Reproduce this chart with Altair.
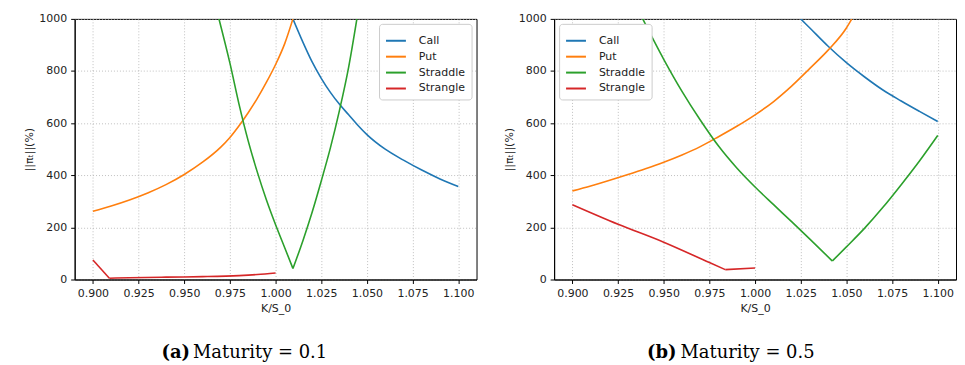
import altair as alt
import pandas as pd

series_names = ["Call", "Put", "Straddle", "Strangle"]
series_colors = ["#1f77b4", "#ff7f0e", "#2ca02c", "#d62728"]
x_ticks = [0.900, 0.925, 0.950, 0.975, 1.000, 1.025, 1.050, 1.075, 1.100]
y_ticks = [0, 200, 400, 600, 800, 1000]

# ---- (a) Maturity = 0.1 ----
a_call_k = [1.0095, 1.015, 1.020, 1.025, 1.030, 1.035, 1.040, 1.045, 1.050, 1.060, 1.070, 1.080, 1.090, 1.100]
a_call_v = [1000, 910, 835, 772, 718, 672, 632, 592, 556, 500, 458, 420, 386, 357]
a_put_k = [0.900, 0.910, 0.920, 0.930, 0.940, 0.950, 0.960, 0.970, 0.975, 0.980, 0.985, 0.990, 0.995, 1.000, 1.005, 1.0095]
a_put_v = [262, 282, 305, 332, 364, 403, 450, 508, 545, 590, 640, 695, 757, 825, 905, 1000]
a_strad_left_k = [0.969, 0.975, 0.980, 0.985, 0.990, 0.995, 1.000, 1.005, 1.0095]
a_strad_left_v = [1000, 830, 672, 532, 412, 305, 210, 122, 42]
a_strad_right_k = [1.0095, 1.015, 1.020, 1.025, 1.030, 1.035, 1.040, 1.0445]
a_strad_right_v = [42, 150, 258, 378, 505, 650, 815, 1000]
a_strang_left_k = [0.900, 0.909]
a_strang_left_v = [75, 5]
a_strang_right_k = [0.909, 0.920, 0.940, 0.960, 0.980, 0.990, 1.000]
a_strang_right_v = [5, 7, 9, 11, 15, 19, 25]

# ---- (b) Maturity = 0.5 ----
b_call_k = [1.025, 1.030, 1.040, 1.050, 1.060, 1.070, 1.080, 1.090, 1.100]
b_call_v = [1000, 965, 895, 832, 777, 727, 685, 645, 606]
b_put_k = [0.900, 0.910, 0.920, 0.930, 0.940, 0.950, 0.960, 0.970, 0.980, 0.990, 1.000, 1.010, 1.020, 1.030, 1.040, 1.050, 1.053]
b_put_v = [340, 359, 380, 402, 425, 450, 478, 510, 548, 588, 632, 682, 742, 810, 880, 965, 1000]
b_strad_left_k = [0.9385, 0.950, 0.960, 0.970, 0.980, 0.990, 1.000, 1.010, 1.020, 1.030, 1.0423]
b_strad_left_v = [1000, 845, 722, 612, 512, 428, 355, 288, 222, 155, 71]
b_strad_right_k = [1.0423, 1.050, 1.060, 1.070, 1.080, 1.090, 1.100]
b_strad_right_v = [71, 125, 197, 277, 364, 455, 553]
b_strang_left_k = [0.900, 0.925, 0.950, 0.975, 0.9837]
b_strang_left_v = [287, 212, 143, 65, 38]
b_strang_right_k = [0.9837, 1.000]
b_strang_right_v = [38, 44]

captions_tag = ["(a)", "(b)"]
captions_text = ["Maturity = 0.1", "Maturity = 0.5"]


def frame(parts):
    rows = []
    for name, branch, ks, vs in parts:
        for k, v in zip(ks, vs):
            rows.append({"k": k, "v": v, "series": name, "branch": branch})
    return pd.DataFrame(rows)


df_a = frame([("Call", "c", a_call_k, a_call_v), ("Put", "p", a_put_k, a_put_v),
              ("Straddle", "s1", a_strad_left_k, a_strad_left_v),
              ("Straddle", "s2", a_strad_right_k, a_strad_right_v),
              ("Strangle", "g1", a_strang_left_k, a_strang_left_v),
              ("Strangle", "g2", a_strang_right_k, a_strang_right_v)])
df_b = frame([("Call", "c", b_call_k, b_call_v), ("Put", "p", b_put_k, b_put_v),
              ("Straddle", "s1", b_strad_left_k, b_strad_left_v),
              ("Straddle", "s2", b_strad_right_k, b_strad_right_v),
              ("Strangle", "g1", b_strang_left_k, b_strang_left_v),
              ("Strangle", "g2", b_strang_right_k, b_strang_right_v)])


def panel(df, orient, tag, text, tag_x, text_x):
    lines = alt.Chart(df).mark_line(strokeWidth=1.6, clip=True, interpolate="monotone").encode(
        x=alt.X("k:Q", scale=alt.Scale(domain=[0.89, 1.11], nice=False, zero=False),
                axis=alt.Axis(values=x_ticks, format=".3f", title="K/S_0")),
        y=alt.Y("v:Q", scale=alt.Scale(domain=[0, 1000], nice=False),
                axis=alt.Axis(values=y_ticks, format="d", title="||πₜ||(%)")),
        color=alt.Color("series:N", sort=series_names,
                        scale=alt.Scale(domain=series_names, range=series_colors),
                        legend=alt.Legend(orient=orient, title=None)),
        detail="branch:N",
    )
    tag_mark = alt.Chart(pd.DataFrame({"t": [tag]})).mark_text(
        align="right", baseline="alphabetic", font="DejaVu Serif", fontSize=18,
        fontWeight="bold", color="black").encode(
        text="t:N", x=alt.value(tag_x), y=alt.value(341))
    text_mark = alt.Chart(pd.DataFrame({"t": [text]})).mark_text(
        align="left", baseline="alphabetic", font="DejaVu Serif", fontSize=18,
        color="black").encode(
        text="t:N", x=alt.value(text_x), y=alt.value(341))
    return alt.layer(lines, tag_mark, text_mark).properties(width=404, height=262)


left = panel(df_a, "top-right", captions_tag[0], captions_text[0], 116, 119)
right = panel(df_b, "top-left", captions_tag[1], captions_text[1], 123, 127)

chart = alt.hconcat(left, right, spacing=25).resolve_scale(
    color="independent").resolve_legend(color="independent").properties(
    padding={"left": 15, "top": 3, "right": 0, "bottom": 0}
).configure_view(
    stroke="black", strokeWidth=1
).configure_axis(
    grid=True, gridColor="#b0b0b0", gridDash=[1, 2], gridWidth=0.8,
    domainColor="black", tickColor="black", tickSize=4, labelPadding=4,
    labelFont="DejaVu Sans", labelFontSize=11, labelColor="#222",
    titleFont="DejaVu Sans", titleFontSize=11, titleFontWeight="normal",
    titleColor="#222", titlePadding=4
).configure_legend(
    fillColor="white", strokeColor="#cccccc", cornerRadius=3, padding=6,
    offset=5, symbolType="stroke", symbolStrokeWidth=2, symbolSize=400,
    labelFont="DejaVu Sans", labelFontSize=11, labelColor="#222",
    labelOffset=12, rowPadding=-2
)

chart.save("out.html", embed_options={"renderer": "svg", "actions": False})
